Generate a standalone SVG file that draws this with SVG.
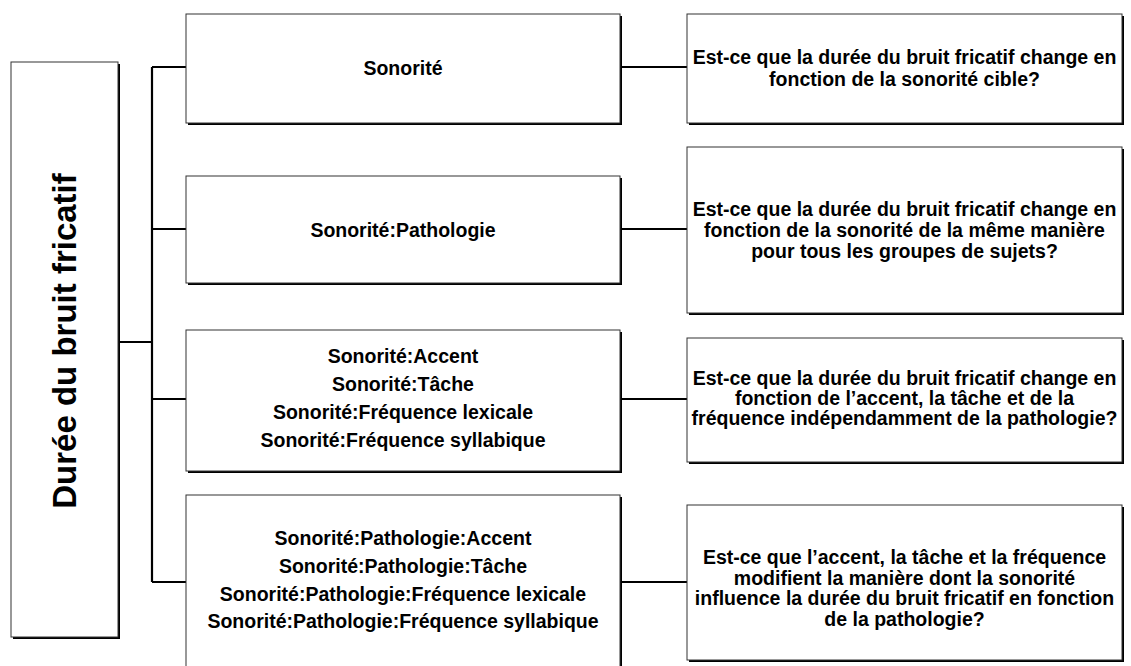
<svg xmlns="http://www.w3.org/2000/svg" width="1131" height="666" viewBox="0 0 1131 666">
<style>
  .box{fill:#fff;stroke:#333;stroke-width:1}
  .sh{fill:#000}
  .t{font-family:"Liberation Sans",Arial,sans-serif;font-weight:bold;font-size:19.5px;fill:#000;text-anchor:middle}
  .big{font-size:33px}
  .c{fill:none;stroke:#000;stroke-width:2.2}
</style>
<rect width="1131" height="666" fill="#fff"/>
<g id="connectors">
  <path class="c" d="M118 342H152M152 67V582M152 67H186M152 229H186M152 399H186M152 582H186"/>
  <path class="c" d="M620 67H687M620 229H687M620 399H687M620 582H687"/>
</g>
<g id="root">
  <rect class="sh" x="13" y="64" width="107" height="575"/>
  <rect class="box" x="11" y="62" width="107" height="575"/>
  <text class="t big" transform="translate(76 341) rotate(-90)" x="0" y="0">Durée du bruit fricatif</text>
</g>
<g id="n1">
  <rect class="sh" x="188" y="16" width="434" height="109"/>
  <rect class="box" x="186" y="14" width="434" height="109"/>
  <text class="t" x="403" y="75">Sonorité</text>
</g>
<g id="n2">
  <rect class="sh" x="188" y="178" width="434" height="107"/>
  <rect class="box" x="186" y="176" width="434" height="107"/>
  <text class="t" x="403" y="237">Sonorité:Pathologie</text>
</g>
<g id="n3">
  <rect class="sh" x="188" y="332" width="434" height="141"/>
  <rect class="box" x="186" y="330" width="434" height="141"/>
  <text class="t" x="403" y="363">Sonorité:Accent</text>
  <text class="t" x="403" y="391">Sonorité:Tâche</text>
  <text class="t" x="403" y="419">Sonorité:Fréquence lexicale</text>
  <text class="t" x="403" y="447">Sonorité:Fréquence syllabique</text>
</g>
<g id="n4">
  <rect class="sh" x="188" y="497" width="434" height="180"/>
  <rect class="box" x="186" y="495" width="434" height="180"/>
  <text class="t" x="403" y="545">Sonorité:Pathologie:Accent</text>
  <text class="t" x="403" y="573">Sonorité:Pathologie:Tâche</text>
  <text class="t" x="403" y="601">Sonorité:Pathologie:Fréquence lexicale</text>
  <text class="t" x="403" y="628">Sonorité:Pathologie:Fréquence syllabique</text>
</g>
<g id="q1">
  <rect class="sh" x="689" y="16" width="435" height="109"/>
  <rect class="box" x="687" y="14" width="435" height="109"/>
  <text class="t" x="904.5" y="64">Est-ce que la durée du bruit fricatif change en</text>
  <text class="t" x="904.5" y="86">fonction de la sonorité cible?</text>
</g>
<g id="q2">
  <rect class="sh" x="689" y="149" width="435" height="166"/>
  <rect class="box" x="687" y="147" width="435" height="166"/>
  <text class="t" x="904.5" y="216">Est-ce que la durée du bruit fricatif change en</text>
  <text class="t" x="904.5" y="237">fonction de la sonorité de la même manière</text>
  <text class="t" x="904.5" y="258">pour tous les groupes de sujets?</text>
</g>
<g id="q3">
  <rect class="sh" x="689" y="340" width="435" height="124"/>
  <rect class="box" x="687" y="338" width="435" height="124"/>
  <text class="t" x="904.5" y="385">Est-ce que la durée du bruit fricatif change en</text>
  <text class="t" x="904.5" y="405">fonction de l’accent, la tâche et de la</text>
  <text class="t" x="904.5" y="425">fréquence indépendamment de la pathologie?</text>
</g>
<g id="q4">
  <rect class="sh" x="689" y="507" width="435" height="155"/>
  <rect class="box" x="687" y="505" width="435" height="155"/>
  <text class="t" x="904.5" y="564">Est-ce que l’accent, la tâche et la fréquence</text>
  <text class="t" x="904.5" y="585">modifient la manière dont la sonorité</text>
  <text class="t" x="904.5" y="605">influence la durée du bruit fricatif en fonction</text>
  <text class="t" x="904.5" y="626">de la pathologie?</text>
</g>
</svg>
